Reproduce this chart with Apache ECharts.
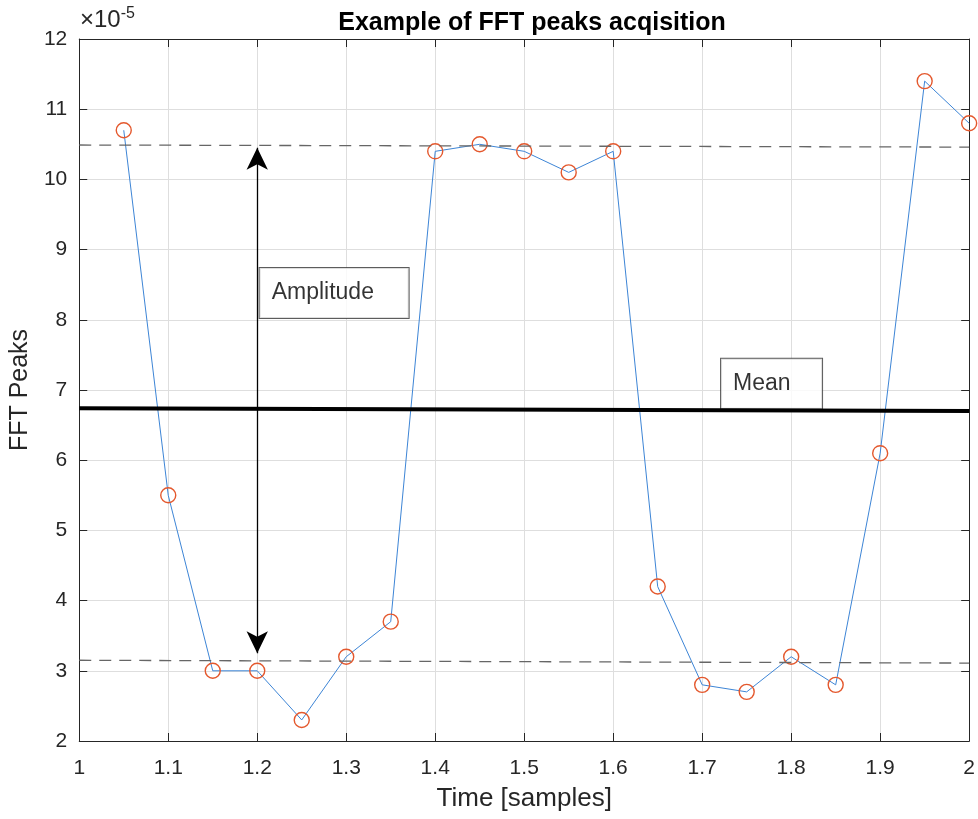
<!DOCTYPE html>
<html>
<head>
<meta charset="utf-8">
<script src="https://cdn.jsdelivr.net/npm/echarts@6/dist/echarts.min.js"></script>
<style>
    html, body { margin: 0; padding: 0; background: #fff; }
    #main { width: 978px; height: 819px; }
</style>
</head>
<body>
<div id="main"></div>
<script type="text/javascript">
    // values are in units of 1e-5 (as on the axis)
    var timeData = [1.05, 1.1, 1.15, 1.2, 1.25, 1.3, 1.35, 1.4, 1.45, 1.5,
                    1.55, 1.6, 1.65, 1.7, 1.75, 1.8, 1.85, 1.9, 1.95, 2.0];
    var peakData = [10.7, 5.5, 3.0, 3.0, 2.3, 3.2, 3.7, 10.4, 10.5, 10.4,
                    10.1, 10.4, 4.2, 2.8, 2.7, 3.2, 2.8, 6.1, 11.4, 10.8];
    var upperLine = [[1, 10.49], [2, 10.46]];
    var lowerLine = [[1, 3.15], [2, 3.11]];
    var meanLine = [[1, 6.74], [2, 6.70]];
    var ampArrow = [[1.2, 10.45], [1.2, 3.25]];
    var ampLabel = [1.2027, 8.38];
    var meanLabel = [1.7212, 7.09];

    var seriesData = [];
    timeData.forEach(function (v, k) {
        seriesData.push([v, peakData[k]]);
    });

    var font = 'Liberation Sans, Arial, sans-serif';
    var axisColor = '#262626';

    function boxLabel(text, w) {
        return {
            show: true,
            position: 'right',
            distance: 0,
            formatter: text,
            fontFamily: font,
            fontSize: 23,
            color: '#000',
            backgroundColor: '#fff',
            borderColor: '#333',
            borderWidth: 1,
            padding: [0, 0, 0, 12],
            width: w,
            height: 50,
            lineHeight: 50,
            verticalAlign: 'middle'
        };
    }

    var myChart = echarts.init(document.getElementById('main'));
    var option = {
        animation: false,
        backgroundColor: '#fff',
        title: {
            text: 'Example of FFT peaks acqisition',
            left: 527,
            top: 6,
            textAlign: 'center',
            textStyle: { fontFamily: font, fontSize: 25, fontWeight: 'bold', color: '#000' }
        },
        graphic: [{
            type: 'text',
            left: 80,
            top: 6,
            style: {
                text: '×10{s|-5}',
                fontFamily: font,
                fontSize: 24,
                fill: axisColor,
                rich: { s: { fontSize: 16, verticalAlign: 'top', padding: [0, 0, 12, 0], fill: axisColor, fontFamily: font } }
            }
        }],
        grid: { left: 78, right: 7, top: 39, bottom: 78 },
        xAxis: [{
            type: 'value',
            min: 1, max: 2, interval: 0.1,
            name: 'Time [samples]',
            nameLocation: 'middle',
            nameGap: 45,
            nameTextStyle: { fontFamily: font, fontSize: 26, color: axisColor },
            axisLine: { lineStyle: { color: axisColor, width: 1 } },
            axisTick: { inside: true, length: 8, lineStyle: { color: axisColor } },
            axisLabel: {
                margin: 17, fontFamily: font, fontSize: 21, color: axisColor,
                formatter: function (v) { return String(+v.toFixed(1)); }
            },
            splitLine: { show: true, lineStyle: { color: '#dedede', width: 1 } }
        }, {
            type: 'value', position: 'top',
            min: 1, max: 2, interval: 0.1,
            axisLine: { onZero: false, lineStyle: { color: axisColor, width: 1 } },
            axisTick: { inside: true, length: 8, lineStyle: { color: axisColor } },
            axisLabel: { show: false },
            splitLine: { show: false }
        }],
        yAxis: [{
            type: 'value',
            min: 2, max: 12, interval: 1,
            name: 'FFT Peaks',
            nameLocation: 'middle',
            nameGap: 41,
            nameTextStyle: { fontFamily: font, fontSize: 25, color: axisColor },
            axisLine: { show: true, lineStyle: { color: axisColor, width: 1 } },
            axisTick: { show: true, inside: true, length: 8, lineStyle: { color: axisColor } },
            axisLabel: { margin: 12, fontFamily: font, fontSize: 21, color: axisColor },
            splitLine: { show: true, lineStyle: { color: '#dedede', width: 1 } }
        }, {
            type: 'value', position: 'right',
            min: 2, max: 12, interval: 1,
            axisLine: { show: true, onZero: false, lineStyle: { color: axisColor, width: 1 } },
            axisTick: { show: true, inside: true, length: 8, lineStyle: { color: axisColor } },
            axisLabel: { show: false },
            splitLine: { show: false }
        }],
        series: [
            {
                name: 'guides',
                type: 'line',
                data: [],
                markLine: {
                    silent: true,
                    symbol: ['none', 'none'],
                    label: { show: false },
                    data: [
                        [{ coord: upperLine[0], lineStyle: { color: '#666', type: [12, 8], width: 1.3 } }, { coord: upperLine[1] }],
                        [{ coord: lowerLine[0], lineStyle: { color: '#666', type: [12, 8], width: 1.3 } }, { coord: lowerLine[1] }],
                        [{ coord: meanLine[0], lineStyle: { color: '#000', type: 'solid', width: 4 } }, { coord: meanLine[1] }]
                    ]
                }
            },
            {
                name: 'arrow',
                type: 'line',
                data: [],
                markLine: {
                    silent: true,
                    symbol: ['arrow', 'arrow'],
                    symbolSize: [16, 22],
                    label: { show: false },
                    lineStyle: { color: '#000', type: 'solid', width: 1.3 },
                    data: [[{ coord: ampArrow[0] }, { coord: ampArrow[1] }]]
                }
            },
            {
                name: 'FFT Peaks',
                type: 'line',
                data: seriesData,
                clip: false,
                symbol: 'circle',
                symbolSize: 15,
                showAllSymbol: true,
                lineStyle: { color: '#3d85d6', width: 1 },
                itemStyle: { color: 'rgba(255,255,255,0)', borderColor: '#e4582d', borderWidth: 1.4 },
                z: 3
            },
            {
                name: 'notes',
                type: 'scatter',
                symbolSize: 0,
                z: 4,
                data: [
                    { value: ampLabel, label: boxLabel('Amplitude', 137) },
                    { value: meanLabel, label: boxLabel('Mean', 89) }
                ]
            }
        ]
    };
    myChart.setOption(option);
</script>
</body>
</html>
